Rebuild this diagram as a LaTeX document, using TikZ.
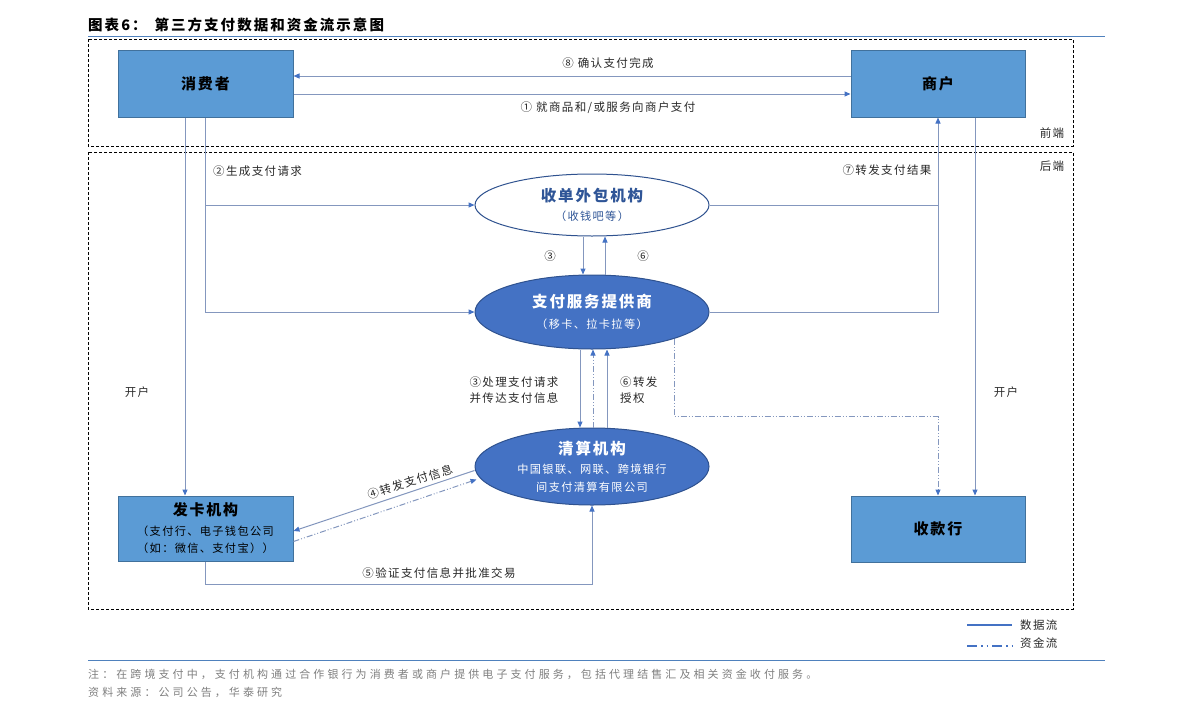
\documentclass[tikz,border=0pt]{standalone}
\usepackage{fontspec}
\setmainfont{Noto Sans CJK SC}[LetterSpace=12]
\newfontfamily\widefont{Noto Sans CJK SC}[LetterSpace=28]
\newfontfamily\titlefamily{Noto Sans CJK SC}[LetterSpace=14]
\usetikzlibrary{shapes.geometric,arrows.meta,calc}
\definecolor{boxfill}{RGB}{91,155,213}
\definecolor{boxborder}{RGB}{65,113,156}
\definecolor{ellfill}{RGB}{68,114,196}
\definecolor{ellborder}{RGB}{47,82,143}
\definecolor{acqtext}{RGB}{47,85,151}
\definecolor{linecol}{RGB}{132,151,190}
\definecolor{arrowcol}{RGB}{68,114,196}
\definecolor{labelcol}{RGB}{40,40,40}
\definecolor{rulecol}{RGB}{79,129,189}
\definecolor{notecol}{RGB}{127,127,127}
\newcommand{\bigt}{\fontsize{15}{20}\selectfont\bfseries}
\newcommand{\ellt}{\fontsize{15.5}{20}\selectfont\bfseries}
\tikzset{
  box/.style={draw=boxborder, fill=boxfill, line width=1pt, minimum width=175pt, minimum height=67pt, inner sep=0pt, align=center, text=black, font=\fontsize{11.2}{17.5}\selectfont},
  ell/.style={ellipse, draw=ellborder, line width=1pt, minimum width=234pt, inner sep=0pt, align=center, font=\fontsize{11.2}{18}\selectfont},
  conn/.style={draw=linecol, line width=1pt, -{Triangle[length=6pt,width=5pt,color=arrowcol]}},
  plain/.style={draw=linecol, line width=1pt},
  money/.style={conn, dash pattern=on 6pt off 2pt on 1pt off 2pt on 1pt off 2pt},
  lbl/.style={font=\fontsize{11.5}{16}\selectfont, text=labelcol, inner sep=0pt, align=center},
  frame/.style={draw=black, line width=0.9pt, dash pattern=on 3pt off 2pt},
}
\begin{document}
\begin{tikzpicture}[x=1pt,y=-1pt]
\useasboundingbox (0,0) rectangle (1191,720);
% title
\node[anchor=west, inner sep=0pt, font=\fontsize{14.5}{16}\selectfont\titlefamily\bfseries] (title) at (88,25) {图表6：\hspace{8pt}第三方支付数据和资金流示意图};
\draw[rulecol, line width=1pt] (88,36) -- (1105,36);
% frames
\draw[frame] (88,39) rectangle (1073,146);
\draw[frame] (88,152) rectangle (1073,609);
\node[lbl] (fe) at (1052,133) {前端};
\node[lbl] (be) at (1052,166) {后端};
% nodes
\node[box] (consumer) at (205.5,83.5) {\bigt 消费者};
\node[box, minimum width=174pt] (shop) at (938,83.5) {\bigt 商户};
\node[ell, fill=white, minimum height=62pt, text=acqtext] (acq) at (592,205) {{\ellt 收单外包机构}\\[1pt]（收钱吧等）};
\node[ell, fill=ellfill, minimum height=74pt, text=white] (psp) at (592,312) {{\ellt 支付服务提供商}\\[3pt]（移卡、拉卡拉等）};
\node[ell, fill=ellfill, minimum height=77pt, text=white] (clr) at (592,466.5) {{\ellt 清算机构}\\[1pt]中国银联、网联、跨境银行\\间支付清算有限公司};
\node[box, minimum height=65pt] (issuer) at (205.5,528.5) {{\bigt 发卡机构}\\[2pt]（支付行、电子钱包公司\\（如：微信、支付宝））};
\node[box, minimum width=174pt, minimum height=66pt] (payee) at (938,529) {\bigt 收款行};
% front connectors
\draw[conn] ([yshift=7.5pt]shop.west) -- ([yshift=7.5pt]consumer.east);
\draw[conn] ([yshift=-10.5pt]consumer.east) -- ([yshift=-10.5pt]shop.west);
\node[lbl] (l8) at (608,63) {⑧ 确认支付完成};
\node[lbl] (l1) at (608,108) {① 就商品和/或服务向商户支付};
% consumer down
\draw[conn] ([xshift=-20.5pt]consumer.south) -- ([xshift=-20.5pt]issuer.north);
\draw[conn] (consumer.south) |- (psp.west);
\draw[conn] (consumer.south |- acq.west) -- (acq.west);
\node[lbl, anchor=west] (l2) at (213,171) {②生成支付请求};
\node[lbl] (kh1) at (137,392) {开户};
% acq <-> psp
\draw[conn] ([xshift=-9pt]acq.south) -- ([xshift=-9pt]psp.north);
\draw[conn] ([xshift=13pt]psp.north) -- ([xshift=13pt]acq.south);
\node[lbl] (l3a) at (550,256) {③};
\node[lbl] (l6a) at (643,256) {⑥};
% to shop
\draw[conn] (psp.east) -| (shop.south);
\draw[plain] (acq.east) -- (acq.east -| shop.south);
\node[lbl] (l7) at (887,170) {⑦转发支付结果};
% shop to payee
\draw[conn] ([xshift=37pt]shop.south) -- ([xshift=37pt]payee.north);
\node[lbl] (kh2) at (1006,392) {开户};
% money flow psp -> payee
\draw[money] (psp.-18) |- ([yshift=79pt]payee.north) -- (payee.north);
% psp <-> clr
\draw[conn] ([xshift=-12pt]psp.south) -- ([xshift=-12pt]clr.north);
\draw[money] ([xshift=1pt]clr.north) -- ([xshift=1pt]psp.south);
\draw[conn] ([xshift=15pt]clr.north) -- ([xshift=15pt]psp.south);
\node[lbl] (l3b) at (514,390) {③处理支付请求\\并传达支付信息};
\node[lbl, anchor=west, align=left] (l6b) at (620,390) {⑥转发\\授权};
% clr <-> issuer
\draw[conn] ([yshift=-4pt]clr.west) -- ([yshift=-2.5pt]issuer.east);
\draw[money] ([yshift=-13pt]issuer.east) -- ([yshift=-13pt,xshift=2pt]clr.west);
\node[lbl, rotate=18] (l4) at (410,482) {④转发支付信息};
% issuer -> clr
\draw[conn] (issuer.south) -- ++(0,23) -| (clr.south);
\node[lbl] (l5) at (439,573) {⑤验证支付信息并批准交易};
% legend
\coordinate (lg1a) at (967,625);
\coordinate (lg1b) at (1012,625);
\coordinate (lg2a) at (967,646);
\coordinate (lg2b) at (1012,646);
\draw[arrowcol, line width=1.2pt] (lg1a) -- (lg1b);
\draw[arrowcol, line width=1.2pt, dash pattern=on 10pt off 4pt on 1.5pt off 4pt on 1.5pt off 4pt] (lg2a) -- (lg2b);
\node[lbl, anchor=west] (lgt1) at (1020,625) {数据流};
\node[lbl, anchor=west] (lgt2) at (1020,643) {资金流};
% bottom
\draw[rulecol, line width=1pt] (88,660) -- (1105,660);
\node[anchor=west, inner sep=0pt, text=notecol, font=\fontsize{11}{13}\selectfont\widefont] (note) at (88,674) {注：在跨境支付中，支付机构通过合作银行为消费者或商户提供电子支付服务，包括代理结售汇及相关资金收付服务。};
\node[anchor=west, inner sep=0pt, text=notecol, font=\fontsize{11}{13}\selectfont\widefont] (src) at (88,692) {资料来源：公司公告，华泰研究};
\end{tikzpicture}
\end{document}
